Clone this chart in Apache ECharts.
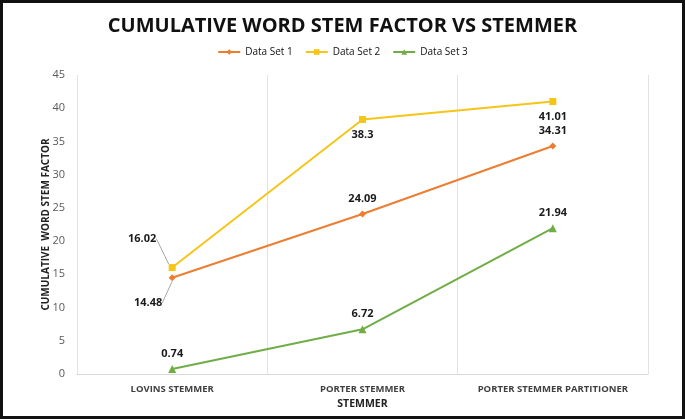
<!DOCTYPE html>
<html>
<head>
<meta charset="utf-8">
<script src="https://cdn.jsdelivr.net/npm/echarts@6/dist/echarts.min.js"></script>
<style>
html,body{margin:0;padding:0;background:#fff;}
#box{width:685px;height:419px;box-sizing:border-box;border:3px solid #111;}
#main{width:100%;height:100%;}
</style>
</head>
<body>
<div id="box"><div id="main"></div></div>
<script>
var categories = ['LOVINS STEMMER', 'PORTER STEMMER', 'PORTER STEMMER PARTITIONER'];
var set1 = [14.48, 24.09, 34.31];
var set2 = [16.02, 38.3, 41.01];
var set3 = [0.74, 6.72, 21.94];

var guide = {show:true, lineStyle:{color:'#a6a6a6', width:1}};

function mk(vals, below, guided){
    return vals.map(function(v,i){
        var item = {value:v};
        if(below && below[i]){
            item.label = {position:'bottom'};
        }
        item.labelLine = (guided && i===0) ? guide : {show:false};
        return item;
    });
}

var lbl = {show:true, position:'top', color:'#1a1a1a', fontWeight:'bold', fontSize:11, fontFamily:'Open Sans', distance:6};

var chart = echarts.init(document.getElementById('main'));
var option = {
    animation:false,
    title:{
        text:'CUMULATIVE WORD STEM FACTOR VS STEMMER',
        left:'center', top:8,
        textStyle:{fontFamily:'Open Sans', fontSize:20, fontWeight:'bold', color:'#111'}
    },
    legend:{
        top:39, left:'center', itemWidth:22, itemHeight:7, itemGap:12,
        textStyle:{fontFamily:'Open Sans', fontSize:10, color:'#111'},
        data:['Data Set 1','Data Set 2','Data Set 3']
    },
    grid:{left:74, right:34, top:72, bottom:42},
    xAxis:{
        type:'category',
        data:categories,
        boundaryGap:true,
        axisLine:{lineStyle:{color:'#d9d9d9'}},
        axisTick:{show:false},
        splitLine:{show:true, lineStyle:{color:'#e3e3e3'}},
        axisLabel:{color:'#404040', fontWeight:'bold', fontSize:9.5, fontFamily:'Open Sans', margin:10, interval:0},
        name:'STEMMER', nameLocation:'middle', nameGap:25, nameMoveOverlap:false,
        nameTextStyle:{fontFamily:'Open Sans', fontWeight:'bold', fontSize:10.5, color:'#222'}
    },
    yAxis:{
        type:'value', min:0, max:45, interval:5,
        axisLine:{show:false}, axisTick:{show:false},
        splitLine:{show:false},
        axisLabel:{color:'#595959', fontSize:11, fontFamily:'Open Sans', margin:12},
        name:'CUMULATIVE  WORD STEM FACTOR', nameLocation:'middle', nameGap:26, nameMoveOverlap:false,
        nameTextStyle:{fontFamily:'Open Sans', fontWeight:'bold', fontSize:10, color:'#222'}
    },
    series:[
        {name:'Data Set 1', type:'line', data:mk(set1,null,true), symbol:'diamond', symbolSize:7,
         lineStyle:{width:2}, color:'#ED7D31', label:lbl,
         labelLayout:function(p){ return p.dataIndex===0 ? {dx:-24, dy:40} : {}; }},
        {name:'Data Set 2', type:'line', data:mk(set2,[false,true,true],true), symbol:'rect', symbolSize:7,
         lineStyle:{width:2}, color:'#F5C518', label:lbl,
         labelLayout:function(p){ return p.dataIndex===0 ? {dx:-30, dy:-14} : {}; }},
        {name:'Data Set 3', type:'line', data:mk(set3,null,false), symbol:'triangle', symbolSize:8,
         lineStyle:{width:2}, color:'#70AD47', label:lbl}
    ]
};
chart.setOption(option);
</script>
</body>
</html>
